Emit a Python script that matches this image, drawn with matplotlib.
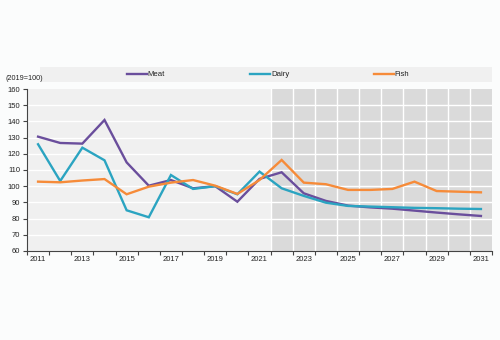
import matplotlib
matplotlib.use("Agg")
import matplotlib.pyplot as plt
from matplotlib.lines import Line2D

plt.rcParams['font.family'] = ['Liberation Sans', 'DejaVu Sans']

years = list(range(2011, 2032))
meat = [130.6, 126.7, 126.3, 140.9, 114.7, 100.3, 103.8, 98.7, 100.0, 90.4, 104.5,
        108.6, 95.6, 90.9, 88.0, 86.9, 86.1, 84.9, 83.7, 82.6, 81.6]
dairy = [125.9, 103.2, 123.8, 116.0, 85.1, 80.8, 106.9, 98.3, 100.0, 95.0, 109.0,
         98.7, 94.0, 89.8, 87.8, 87.4, 87.0, 86.6, 86.4, 86.1, 85.9]
fish = [102.8, 102.4, 103.5, 104.4, 95.0, 99.7, 102.2, 103.8, 100.3, 95.2, 103.8,
        116.2, 102.2, 101.2, 97.7, 97.7, 98.3, 102.8, 97.0, 96.6, 96.2]
series_names = ["Meat", "Dairy", "Fish"]
series_colors = ["#6a4e9c", "#2ba4c1", "#f68b39"]
projection_start = 2022

fig = plt.figure(figsize=(5, 3.4), dpi=100, facecolor="#fbfcfc")
ax = fig.add_axes([0.054, 0.262, 0.93, 0.476])
ax.set_facecolor("#f0f0f0")

x = list(range(len(years)))
n = len(years)
ax.set_xlim(-0.5, n - 0.5)
ax.set_ylim(60, 160)

# projection period shading with its own vertical grid
p0 = years.index(projection_start) - 0.5
ax.axvspan(p0, n - 0.5, color="#dadada", zorder=0, lw=0)
for b in range(years.index(projection_start), n):
    ax.axvline(b - 0.5, color="white", lw=1.0, zorder=0.5)

for yv in range(70, 160, 10):
    ax.axhline(yv, color="white", lw=1.0, zorder=0.6)

for vals, col in zip([meat, dairy, fish], series_colors):
    ax.plot(x, vals, color=col, lw=1.7, zorder=3, solid_joinstyle="miter")

ax.set_yticks(range(60, 161, 10))
ax.tick_params(axis="y", labelsize=5.5, length=3, width=0.8, color="#444444",
               pad=2, labelcolor="#222222")
ax.set_xticks([b - 0.5 for b in range(n + 1)])
ax.set_xticklabels([])
ax.tick_params(axis="x", which="major", length=3, width=0.8, color="#444444")
ax.set_xticks(x[::2], minor=True)
ax.set_xticklabels([str(y) for y in years[::2]], minor=True)
ax.tick_params(axis="x", which="minor", length=0, labelsize=5.5, pad=4,
               labelcolor="#222222")

for s in ["top", "right"]:
    ax.spines[s].set_visible(False)
for s in ["left", "bottom"]:
    ax.spines[s].set_color("#444444")
    ax.spines[s].set_linewidth(0.8)

fig.text(0.01, 0.77, "(2019=100)", fontsize=5.2, color="#222222", va="center")

# legend strip
lax = fig.add_axes([0.08, 0.759, 0.904, 0.044])
lax.set_facecolor("#f0f0f0")
lax.set_xlim(0, 1)
lax.set_ylim(0, 1)
lax.set_xticks([])
lax.set_yticks([])
for s in lax.spines.values():
    s.set_visible(False)
legend_x = [0.192, 0.465, 0.739]
for name, col, lx in zip(series_names, series_colors, legend_x):
    lax.add_line(Line2D([lx, lx + 0.044], [0.5, 0.5], color=col, lw=1.7))
    lax.text(lx + 0.046, 0.5, name, fontsize=5.6, va="center", ha="left",
             color="#222222")

fig.savefig("out.png", dpi=100, facecolor=fig.get_facecolor())
